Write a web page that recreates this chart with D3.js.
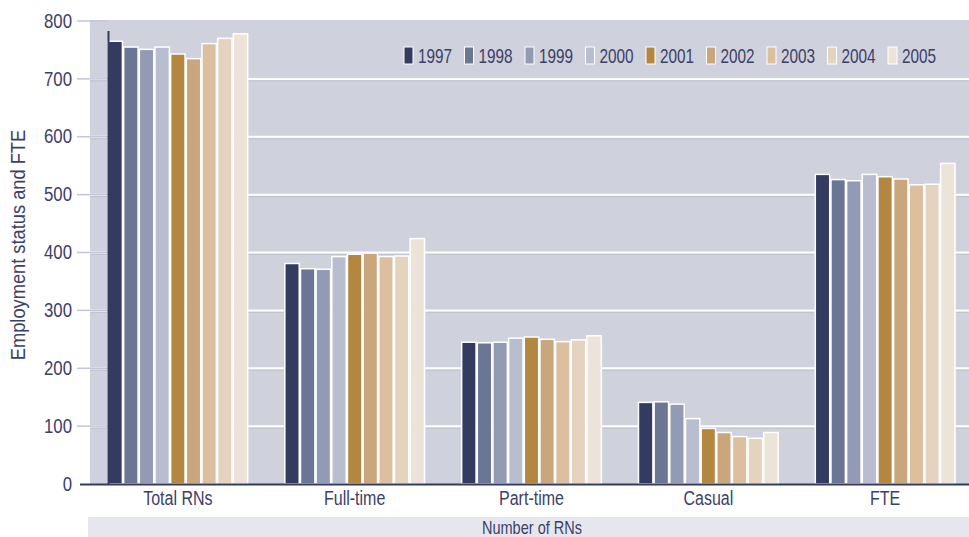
<!DOCTYPE html>
<html>
<head>
<meta charset="utf-8">
<script src="https://cdn.jsdelivr.net/npm/d3@7/dist/d3.min.js"></script>
<style>
  html, body { margin: 0; padding: 0; background: #ffffff; }
  svg { display: block; }
  text { font-family: "Liberation Sans", Arial, sans-serif; fill: #3b4069; }
</style>
</head>
<body>
<svg id="chart" width="969" height="537"></svg>
<script>
// Registered nurses by employment status, 1997–2005
const categories = ["Total RNs", "Full-time", "Part-time", "Casual", "FTE"];
const years = ["1997", "1998", "1999", "2000", "2001", "2002", "2003", "2004", "2005"];
const totalRNs = [765, 755, 751, 755, 743, 735, 761, 770, 778];
const fullTime = [381, 372, 371, 393, 397, 399, 393, 394, 424];
const partTime = [245, 244, 245, 252, 254, 250, 246, 249, 256];
const casual   = [141, 142, 138, 113, 96, 89, 82, 79, 89];
const fte      = [535, 526, 524, 535, 531, 527, 517, 518, 554];
const yTicks = [0, 100, 200, 300, 400, 500, 600, 700, 800];
const yearColors = ["#333b60", "#6b7594", "#939ab3", "#b8bdcf", "#b3873f", "#c9a67c", "#dbbf9f", "#e4d3bf", "#ede4d9"];

const seriesByCategory = [totalRNs, fullTime, partTime, casual, fte];

// narrow the glyphs horizontally while keeping each text's anchor point fixed
function condense(sel, s) {
  sel.each(function () {
    const t = d3.select(this);
    const x = +t.attr("x") || 0;
    t.attr("transform", `translate(${x * (1 - s)},0) scale(${s},1)`);
  });
}

const svg = d3.select("#chart");

const plotLeft = 108, plotRight = 955, plotBottom = 484;

const y = d3.scaleLinear().domain([0, 800]).range([plotBottom, 21]);
const x0 = d3.scaleBand().domain(categories).range([plotLeft, plotRight]).paddingInner(0.21).paddingOuter(0);
const x1 = d3.scaleBand().domain(years).range([0, x0.bandwidth()]).paddingInner(0.08);
const color = d3.scaleOrdinal().domain(years).range(yearColors);

// plot background
svg.append("rect").attr("x", 90).attr("y", 20).attr("width", 969 - 90).attr("height", plotBottom - 20)
  .attr("fill", "#cfd1dc");

// gridlines with a faint shadow
const grid = svg.append("g");
yTicks.filter(t => t > 0 && t < 800).forEach(t => {
  grid.append("line").attr("x1", 90).attr("x2", 969).attr("y1", y(t) + 2).attr("y2", y(t) + 2)
    .attr("stroke", "#bfc2d0").attr("stroke-width", 1);
  grid.append("line").attr("x1", 90).attr("x2", 969).attr("y1", y(t)).attr("y2", y(t))
    .attr("stroke", "#ffffff").attr("stroke-width", 2);
});

// bars
const groups = svg.append("g").selectAll("g")
  .data(categories)
  .join("g")
  .attr("transform", d => `translate(${x0(d)},0)`);

groups.selectAll("rect")
  .data((d, i) => years.map((yr, j) => ({ year: yr, value: seriesByCategory[i][j] })))
  .join("rect")
  .attr("x", d => x1(d.year))
  .attr("y", d => y(d.value))
  .attr("width", x1.bandwidth())
  .attr("height", d => y(0) - y(d.value))
  .attr("fill", d => color(d.year))
  .attr("stroke", "#ffffff")
  .attr("stroke-width", 1.5);

// y axis
const yAxis = d3.axisLeft(y).tickValues(yTicks).tickSize(0).tickPadding(0);
const yAxisG = svg.append("g").attr("transform", `translate(72,0)`).call(yAxis);
yAxisG.select(".domain").remove();
yAxisG.selectAll("text").attr("font-size", 19.5).attr("fill", "#3b4069")
  .style("font-family", "'Liberation Sans', Arial, sans-serif")
  .call(condense, 0.86);

// tick marks outside the axis
yTicks.filter(t => t > 0).forEach(t => {
  svg.append("line").attr("x1", 77).attr("x2", plotLeft).attr("y1", y(t)).attr("y2", y(t))
    .attr("stroke", "#c3c6d4").attr("stroke-width", 1.5);
});

// axis lines
svg.append("line").attr("x1", plotLeft + 0.5).attr("x2", plotLeft + 0.5).attr("y1", 31).attr("y2", plotBottom)
  .attr("stroke", "#333b60").attr("stroke-width", 2);
svg.append("line").attr("x1", 80).attr("x2", 969).attr("y1", plotBottom + 0.5).attr("y2", plotBottom + 0.5)
  .attr("stroke", "#333b60").attr("stroke-width", 2);

// category axis
const xAxis = d3.axisBottom(x0).tickSize(0).tickPadding(0);
const xAxisG = svg.append("g").attr("transform", `translate(0,${plotBottom + 7})`).call(xAxis);
xAxisG.select(".domain").remove();
xAxisG.selectAll("text").attr("font-size", 20).attr("fill", "#3b4069").attr("dy", "0.71em")
  .style("font-family", "'Liberation Sans', Arial, sans-serif")
  .call(condense, 0.8);

// y axis title
svg.append("g")
  .attr("transform", "translate(25,245) rotate(-90)")
  .append("text")
  .attr("text-anchor", "middle")
  .attr("font-size", 21)
  .text("Employment status and FTE")
  .call(condense, 0.87);

// x axis title band
svg.append("rect").attr("x", 88).attr("y", 517).attr("width", 969 - 88).attr("height", 20).attr("fill", "#e6e7ee");
svg.append("text").attr("x", 532).attr("y", 534).attr("text-anchor", "middle").attr("font-size", 17.5)
  .text("Number of RNs")
  .call(condense, 0.83);

// legend
const legend = svg.append("g").selectAll("g")
  .data(years)
  .join("g")
  .attr("transform", (d, i) => `translate(${404 + i * 60.5},47)`);
legend.append("rect").attr("width", 9).attr("height", 17)
  .attr("fill", d => color(d)).attr("stroke", "#ffffff").attr("stroke-width", 1);
legend.append("text").attr("x", 14).attr("y", 16).attr("font-size", 21).text(d => d)
  .call(condense, 0.73);
</script>
</body>
</html>
